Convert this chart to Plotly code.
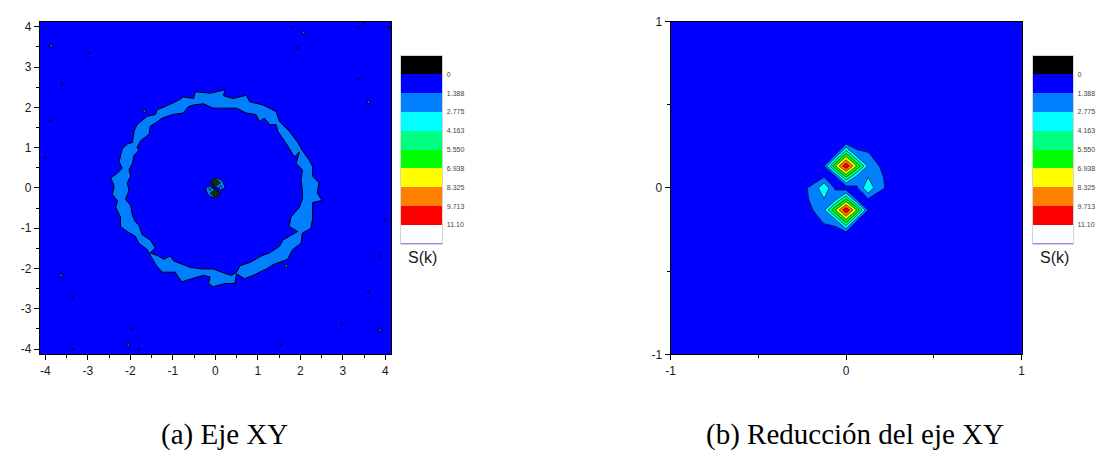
import plotly.graph_objects as go

# ---- contour levels of S(k) and the colour of each band (lowest band first) ----
levels = [0, 1.388, 2.775, 4.163, 5.550, 6.938, 8.325, 9.713, 11.10]
level_labels = ["0", "1.388", "2.775", "4.163", "5.550", "6.938", "8.325", "9.713", "11.10"]
level_step = 1.3875
band_colors = ["#000000", "#0000ff", "#0080ff", "#00ffff", "#00ff80",
               "#00ff00", "#ffff00", "#ff8000", "#ff0000", "#ffffff"]

# ---- S(k) sampled on the central k grid (rows: ky ascending, cols: kx ascending) ----
kx_core = [-0.375, -0.3125, -0.25, -0.1875, -0.125, -0.0625, 0.0,
           0.0625, 0.125, 0.1875, 0.25, 0.3125, 0.375]
ky_core = [-0.3975, -0.33125, -0.265, -0.19875, -0.1325, -0.06625, 0.0,
           0.06625, 0.1325, 0.19875, 0.265, 0.33125, 0.3975]
s_core = [
    [0.7, 0.7, 0.7, 0.7, 0.7, 0.7, 0.7, 0.7, 0.7, 0.7, 0.7, 0.7, 0.7],
    [0.7, 0.7, 0.7, 0.7, 0.7, 0.7, 0.7, 0.7, 0.7, 0.7, 0.7, 0.7, 0.7],
    [0.7, 0.7, 0.7, 0.7, 0.7, 0.7, 1.3, 0.7, 0.7, 0.7, 0.7, 0.7, 0.7],
    [0.7, 0.7, 0.7, 0.7, 1.6, 2.0, 6.2, 1.3, 0.7, 0.7, 0.7, 0.7, 0.7],
    [0.7, 0.7, 0.7, 1.4, 2.6, 6.8, 11.0, 6.8, 1.3, 0.7, 0.7, 0.7, 0.7],
    [0.7, 0.7, 0.8, 1.8, 2.75, 2.2, 5.6, 1.0, 1.3, 0.8, 0.7, 0.7, 0.7],
    [0.7, 0.7, 1.1, 1.7, 4.0, 1.2, 0.4, 1.2, 4.0, 1.7, 1.1, 0.7, 0.7],
    [0.7, 0.7, 0.7, 0.8, 1.3, 1.0, 5.6, 2.2, 2.75, 1.8, 0.8, 0.7, 0.7],
    [0.7, 0.7, 0.7, 0.7, 1.3, 6.8, 11.0, 6.8, 2.6, 1.4, 0.7, 0.7, 0.7],
    [0.7, 0.7, 0.7, 0.7, 0.7, 1.3, 6.2, 2.0, 1.6, 0.7, 0.7, 0.7, 0.7],
    [0.7, 0.7, 0.7, 0.7, 0.7, 0.7, 1.3, 0.7, 0.7, 0.7, 0.7, 0.7, 0.7],
    [0.7, 0.7, 0.7, 0.7, 0.7, 0.7, 0.7, 0.7, 0.7, 0.7, 0.7, 0.7, 0.7],
    [0.7, 0.7, 0.7, 0.7, 0.7, 0.7, 0.7, 0.7, 0.7, 0.7, 0.7, 0.7, 0.7],
]
s_background = 0.7
k_edge = 4.2

# ---- ring of S(k) between 1.388 and 2.775 (outer and inner contour) ----
ring_outer_x = [-2.38, -2.46, -2.30, -2.19, -2.26, -2.23, -2.19, -2.07, -1.95, -1.91,
                -1.84, -1.60, -1.41, -1.37, -1.18, -0.86, -0.75, -0.51, -0.47, -0.12,
                0.23, 0.19, 0.42, 0.73, 0.81, 1.12, 1.43, 1.51, 1.74, 1.94,
                2.05, 2.21, 2.29, 2.29, 2.44, 2.40, 2.51, 2.29, 2.29, 2.25,
                2.05, 2.02, 1.82, 1.70, 1.39, 1.20, 0.89, 0.69, 0.50, 0.46,
                0.23, -0.05, -0.16, -0.12, -0.28, -0.55, -0.79, -0.94, -1.25, -1.41,
                -1.53, -1.60, -1.80, -1.88, -2.07, -2.23, -2.23, -2.34, -2.30, -2.42]
ring_outer_y = [0.05, 0.25, 0.37, 0.49, 0.65, 0.81, 0.97, 1.09, 1.13, 1.41,
                1.57, 1.78, 1.82, 1.94, 2.02, 2.18, 2.26, 2.22, 2.39, 2.35,
                2.44, 2.29, 2.22, 2.30, 2.14, 2.06, 1.90, 1.65, 1.41, 1.13,
                0.93, 0.69, 0.53, 0.29, 0.13, -0.12, -0.31, -0.36, -0.76, -1.00,
                -1.12, -1.37, -1.53, -1.77, -1.89, -2.01, -2.17, -2.25, -2.13, -2.37,
                -2.37, -2.45, -2.37, -2.21, -2.17, -2.25, -2.33, -2.09, -2.09, -1.89,
                -1.65, -1.53, -1.37, -1.20, -1.08, -0.96, -0.72, -0.48, -0.32, -0.16]
ring_inner_x = [-2.03, -2.07, -1.99, -2.03, -1.95, -1.91, -1.80, -1.84, -1.76, -1.56,
                -1.53, -1.41, -1.25, -1.02, -0.75, -0.63, -0.51, -0.28, -0.05, 0.50,
                0.73, 0.96, 1.04, 1.16, 1.28, 1.43, 1.47, 1.70, 1.86, 1.98,
                1.90, 2.05, 2.02, 2.05, 2.05, 1.98, 1.78, 1.74, 1.94, 1.82,
                1.59, 1.51, 1.28, 1.08, 0.81, 0.58, 0.50, 0.38, 0.15, -0.05,
                -0.32, -0.59, -0.79, -0.98, -1.06, -1.21, -1.33, -1.53, -1.41, -1.53,
                -1.72, -1.80, -1.88, -1.95, -1.99, -2.11]
ring_inner_y = [-0.07, 0.13, 0.29, 0.45, 0.61, 0.81, 0.93, 1.01, 1.17, 1.33,
                1.53, 1.61, 1.73, 1.82, 1.86, 2.02, 2.06, 2.09, 1.98, 1.98,
                1.86, 1.82, 1.65, 1.73, 1.57, 1.57, 1.41, 1.05, 0.77, 0.89,
                0.61, 0.45, 0.21, -0.08, -0.28, -0.48, -0.72, -0.96, -1.08, -1.16,
                -1.29, -1.45, -1.61, -1.69, -1.85, -1.93, -2.09, -2.17, -2.09, -2.01,
                -2.01, -1.97, -1.89, -1.81, -1.69, -1.77, -1.69, -1.61, -1.49, -1.29,
                -1.16, -0.92, -0.84, -0.68, -0.44, -0.28]

# isolated small contour islands in the wide view
dot_x = [1.81, 3.36, 3.49, 4.10, 1.93, -2.96, -3.61, -3.88, 3.36, -4.00,
         4.02, 3.87, -3.35, 3.60, 2.97, -1.94, -1.80, -3.35, 1.55]
dot_y = [3.99, 3.99, 4.08, 3.99, 3.47, 3.35, 2.57, 1.67, 2.69, 0.76,
         -0.79, -1.69, -2.73, -2.59, -3.37, -3.49, -4.00, -4.00, -3.90]
blob_x = [-3.86, 2.08, 3.61, -3.63, 1.67, 3.87, -2.05, -1.67]
blob_y = [3.53, 3.86, 2.13, -2.17, -1.93, -3.53, -3.90, 1.91]

# ---- axis ticks ----
wide_ticks = [-4, -3, -2, -1, 0, 1, 2, 3, 4]
wide_minor = [-3.5, -2.5, -1.5, -0.5, 0.5, 1.5, 2.5, 3.5]
zoom_ticks = [-1, 0, 1]
zoom_minor = [-0.5, 0.5]

# ------------------------------------------------------------------
n_bands = len(band_colors)
colorscale = [[m / (n_bands - 1), c] for m, c in enumerate(band_colors)]

# pad the sampled core out to the edge of the wide view with the background level
kx = [-k_edge] + kx_core + [k_edge]
ky = [-k_edge] + ky_core + [k_edge]
pad_row = [s_background] * len(kx)
s_grid = [pad_row] + [[s_background] + row + [s_background] for row in s_core] + [pad_row]

fig = go.Figure()

def add_contour(xa, ya, lw):
    fig.add_trace(go.Contour(
        x=kx, y=ky, z=s_grid, xaxis=xa, yaxis=ya,
        autocontour=False,
        contours=dict(start=levels[0], end=levels[-1] + 0.05, size=level_step,
                      coloring="fill"),
        colorscale=colorscale,
        line=dict(color="black", width=lw, smoothing=0),
        showscale=False, hoverinfo="skip"))

add_contour("x", "y", 1.0)
add_contour("x2", "y2", 0.6)

# ring in the wide view: a single annulus (inner loop traced the other way round
# so that it stays open)
ring_x = ring_outer_x + ring_outer_x[:1] + [None] + ring_inner_x[::-1] + ring_inner_x[-1:]
ring_y = ring_outer_y + ring_outer_y[:1] + [None] + ring_inner_y[::-1] + ring_inner_y[-1:]
fig.add_trace(go.Scatter(
    x=ring_x, y=ring_y, mode="lines", fill="toself", fillcolor=band_colors[2],
    line=dict(color="black", width=1), xaxis="x", yaxis="y",
    hoverinfo="skip", showlegend=False))
fig.add_trace(go.Scatter(
    x=dot_x, y=dot_y, mode="markers", xaxis="x", yaxis="y",
    marker=dict(size=2, color="#101040", line=dict(color="black", width=0.5)),
    hoverinfo="skip", showlegend=False))
fig.add_trace(go.Scatter(
    x=blob_x, y=blob_y, mode="markers", xaxis="x", yaxis="y",
    marker=dict(size=3, color=band_colors[2], line=dict(color="black", width=1)),
    hoverinfo="skip", showlegend=False))

# level keys beside each panel
band_index = list(range(n_bands))
for xa, ya in (("x3", "y3"), ("x4", "y4")):
    fig.add_trace(go.Heatmap(
        x=[0], y=band_index, z=[[m] for m in band_index],
        zmin=0, zmax=n_bands - 1, colorscale=colorscale,
        showscale=False, hoverinfo="skip", xaxis=xa, yaxis=ya))

W, H = 1102, 472
def px_x(p):
    return p / W
def px_y(p):
    return 1 - p / H

tick_font = dict(family="Arial, Liberation Sans, sans-serif", size=12, color="#1a1a1a")

def main_axis(domain, rng, tickvals, minorvals, anchor):
    return dict(
        domain=domain, range=rng, anchor=anchor,
        tickmode="array", tickvals=tickvals, ticktext=[str(t) for t in tickvals],
        ticks="outside", ticklen=5, tickwidth=1, tickcolor="black",
        minor=dict(tickmode="array", tickvals=minorvals, ticks="outside",
                   ticklen=3, tickwidth=1, tickcolor="black"),
        showline=True, linecolor="black", linewidth=1, mirror=True,
        showgrid=False, zeroline=False, tickfont=tick_font)

def key_axes(x0, x1, name):
    xa = dict(domain=[px_x(x0), px_x(x1)], range=[-0.5, 0.5], showticklabels=False,
              ticks="", showgrid=False, zeroline=False, showline=True,
              linecolor="#d4d4d4", linewidth=1, mirror=True, anchor="y" + name)
    ya = dict(domain=[px_y(244), px_y(50)], range=[n_bands - 0.5, -0.5],
              tickmode="array", tickvals=[m + 0.5 for m in range(len(levels))],
              ticktext=level_labels, side="right", ticks="", ticklabelstandoff=2,
              tickfont=dict(family="Arial, Liberation Sans, sans-serif", size=7, color="#444"),
              showgrid=False, zeroline=False, showline=True, linecolor="#d4d4d4",
              linewidth=1, mirror=True, anchor="x" + name)
    return xa, ya

a_x = [px_x(35), px_x(389)]
b_x = [px_x(671), px_x(1025)]
plot_y = [px_y(358), px_y(15)]

x3, y3 = key_axes(399, 441, "3")
x4, y4 = key_axes(1036, 1077, "4")

fig.update_layout(
    width=W, height=H, margin=dict(l=0, r=0, t=0, b=0),
    paper_bgcolor="white", plot_bgcolor="#0000ff", showlegend=False,
    xaxis=main_axis(a_x, [-4.13, 4.13], wide_ticks, wide_minor, "y"),
    yaxis=main_axis(plot_y, [-4.13, 4.13], wide_ticks, wide_minor, "x"),
    xaxis2=main_axis(b_x, [-1, 1], zoom_ticks, zoom_minor, "y2"),
    yaxis2=main_axis(plot_y, [-1, 1], zoom_ticks, zoom_minor, "x2"),
    xaxis3=x3, yaxis3=y3, xaxis4=x4, yaxis4=y4,
)

key_title_font = dict(family="Arial, Liberation Sans, sans-serif", size=16, color="#1a1a1a")
caption_font = dict(family="Liberation Serif, Times New Roman, serif", size=29, color="black")

def label(x, y, text, font):
    fig.add_annotation(x=px_x(x), y=px_y(y), xref="paper", yref="paper",
                       xanchor="center", yanchor="middle",
                       text=text, showarrow=False, font=font)

label(421, 258, "S(k)", key_title_font)
label(1058, 258, "S(k)", key_title_font)
label(221, 441, "(a) Eje XY", caption_font)
label(857, 441, "(b) Reducción del eje XY", caption_font)

fig.write_html("out.html")
